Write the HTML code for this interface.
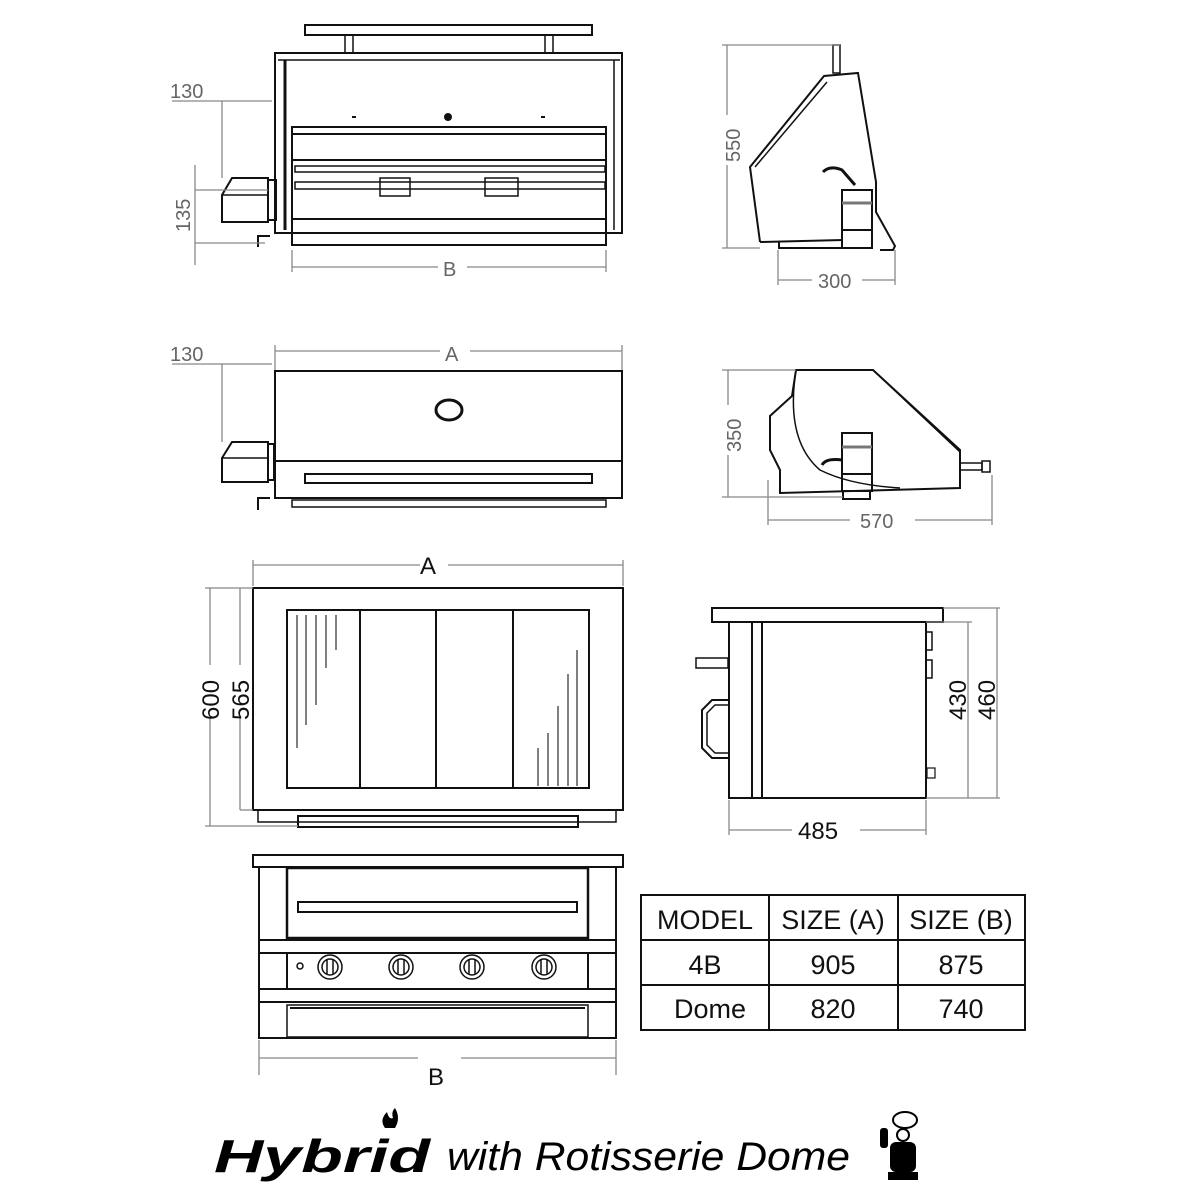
<!DOCTYPE html>
<html><head><meta charset="utf-8"><style>
html,body{margin:0;padding:0;background:#fff;}
svg{display:block;}
text{font-family:"Liberation Sans",sans-serif;}
</style></head><body>
<svg width="1200" height="1200" viewBox="0 0 1200 1200" xmlns="http://www.w3.org/2000/svg">
<rect width="1200" height="1200" fill="#fff"/>
<g fill="none" stroke="#111" stroke-width="2">
<!-- VIEW 1: front rotisserie -->
<rect x="305" y="25" width="287" height="10"/>
<rect x="345" y="35" width="8" height="18" stroke-width="1.5"/>
<rect x="545" y="35" width="8" height="18" stroke-width="1.5"/>
<rect x="275" y="53" width="347" height="180"/>
<line x1="278" y1="60" x2="620" y2="60" stroke-width="1.5"/>
<line x1="285" y1="60" x2="285" y2="230" stroke-width="3"/>
<line x1="614" y1="60" x2="614" y2="230" stroke-width="1.5"/>
<rect x="292" y="127" width="314" height="118"/>
<line x1="292" y1="134" x2="606" y2="134"/>
<line x1="292" y1="160" x2="606" y2="160"/>
<line x1="292" y1="219" x2="606" y2="219"/>
<rect x="295" y="166" width="310" height="6" stroke-width="1.5"/>
<rect x="295" y="182" width="310" height="7" stroke-width="1.5"/>
<rect x="380" y="178" width="30" height="18" stroke-width="1.5"/>
<rect x="485" y="178" width="33" height="18" stroke-width="1.5"/>
<path d="M222 195 L232 178 L268 178 L268 222 L222 222 Z"/>
<line x1="222" y1="195" x2="268" y2="195" stroke-width="1.5"/>
<rect x="268" y="180" width="8" height="40"/>
<circle cx="448" cy="117" r="3" fill="#111"/>
<line x1="352" y1="117" x2="356" y2="117"/>
<line x1="541" y1="117" x2="545" y2="117"/>
<path d="M258 247 V236 H270"/>
</g>
<g stroke="#888" stroke-width="1.3" fill="none">
<line x1="172" y1="101" x2="272" y2="101"/>
<line x1="222" y1="101" x2="222" y2="178"/>
<line x1="195" y1="165" x2="195" y2="265"/>
<line x1="195" y1="190" x2="268" y2="190"/>
<line x1="195" y1="243" x2="265" y2="243"/>
<line x1="292" y1="250" x2="292" y2="272"/>
<line x1="606" y1="250" x2="606" y2="272"/>
<line x1="292" y1="267" x2="438" y2="267"/>
<line x1="467" y1="267" x2="606" y2="267"/>
</g>
<g fill="#666" font-size="20">
<text x="170" y="98">130</text>
<text transform="translate(190 232) rotate(-90)">135</text>
<text x="443" y="276">B</text>
</g>

<!-- VIEW 2: closed front -->
<g fill="none" stroke="#111" stroke-width="2">
<rect x="275" y="371" width="347" height="127"/>
<line x1="275" y1="461" x2="622" y2="461"/>
<rect x="305" y="474" width="287" height="9"/>
<ellipse cx="449" cy="410" rx="13" ry="10" stroke-width="3"/>
<path d="M222 458 L232 442 L268 442 L268 482 L222 482 Z"/>
<line x1="222" y1="458" x2="268" y2="458" stroke-width="1.5"/>
<rect x="268" y="444" width="6" height="36"/>
<rect x="292" y="500" width="314" height="7" stroke-width="1.5"/>
<path d="M258 510 V498 H270"/>
</g>
<g stroke="#888" stroke-width="1.3" fill="none">
<line x1="172" y1="364" x2="272" y2="364"/>
<line x1="222" y1="364" x2="222" y2="442"/>
<line x1="275" y1="345" x2="275" y2="370"/>
<line x1="622" y1="345" x2="622" y2="370"/>
<line x1="275" y1="351" x2="440" y2="351"/>
<line x1="470" y1="351" x2="622" y2="351"/>
</g>
<g fill="#666" font-size="20">
<text x="170" y="361">130</text>
<text x="445" y="361">A</text>
</g>

<!-- SIDE VIEW 1 -->
<g fill="none" stroke="#111" stroke-width="2">
<path d="M760 242 L750 167 L824 76 L858 73 L876 182 L876 212 L895 246 L893 250 L880 250"/>
<path d="M760 242 L843 240"/>
<path d="M755 167 L827 82" stroke-width="1.5"/>
<rect x="833" y="45" width="7" height="28" stroke-width="1.5"/>
<rect x="842" y="190" width="30" height="58"/>
<line x1="842" y1="203" x2="872" y2="203" stroke="#777" stroke-width="3"/>
<line x1="842" y1="230" x2="872" y2="230"/>
<path d="M823 172 Q830 165 842 170 L855 185" stroke-width="3"/>
<path d="M779 242 V248 H842"/>
</g>
<g stroke="#888" stroke-width="1.3" fill="none">
<line x1="722" y1="45" x2="840" y2="45"/>
<line x1="722" y1="248" x2="760" y2="248"/>
<line x1="727" y1="45" x2="727" y2="115"/>
<line x1="727" y1="165" x2="727" y2="248"/>
<line x1="778" y1="250" x2="778" y2="285"/>
<line x1="895" y1="250" x2="895" y2="285"/>
<line x1="778" y1="280" x2="812" y2="280"/>
<line x1="862" y1="280" x2="895" y2="280"/>
</g>
<g fill="#666" font-size="20">
<text transform="translate(740 162) rotate(-90)">550</text>
<text x="818" y="288">300</text>
</g>

<!-- SIDE VIEW 2 -->
<g fill="none" stroke="#111" stroke-width="2">
<path d="M796 370 L873 370 L960 450 L960 488 L780 493 L780 470 L770 450 L770 416 L792 396 Z"/>
<path d="M873 370 L960 452" stroke-width="1.5"/>
<path d="M796 370 Q785 440 820 470 Q850 485 900 488" stroke-width="1.5"/>
<rect x="842" y="433" width="30" height="58"/>
<line x1="842" y1="447" x2="872" y2="447" stroke="#777" stroke-width="3"/>
<line x1="842" y1="474" x2="872" y2="474"/>
<rect x="843" y="491" width="27" height="8"/>
<rect x="960" y="463" width="22" height="7" stroke-width="1.5"/>
<rect x="982" y="461" width="8" height="11" stroke-width="1.5"/>
<path d="M822 465 Q826 458 842 460" stroke-width="3"/>
</g>
<g stroke="#888" stroke-width="1.3" fill="none">
<line x1="722" y1="370" x2="796" y2="370"/>
<line x1="722" y1="497" x2="843" y2="497"/>
<line x1="728" y1="370" x2="728" y2="405"/>
<line x1="728" y1="455" x2="728" y2="497"/>
<line x1="768" y1="480" x2="768" y2="525"/>
<line x1="992" y1="475" x2="992" y2="525"/>
<line x1="768" y1="520" x2="850" y2="520"/>
<line x1="915" y1="520" x2="992" y2="520"/>
</g>
<g fill="#666" font-size="20">
<text transform="translate(741 452) rotate(-90)">350</text>
<text x="860" y="528">570</text>
</g>

<!-- TOP VIEW -->
<g fill="none" stroke="#111" stroke-width="2">
<rect x="253" y="588" width="370" height="222"/>
<rect x="287" y="610" width="302" height="178"/>
<line x1="360" y1="610" x2="360" y2="788"/>
<line x1="436" y1="610" x2="436" y2="788"/>
<line x1="513" y1="610" x2="513" y2="788"/>
<rect x="258" y="810" width="358" height="12" stroke-width="1.5"/>
<rect x="298" y="816" width="280" height="11"/>
</g>
<g stroke="#555" stroke-width="1.5">
<line x1="297" y1="615" x2="297" y2="748"/>
<line x1="306" y1="615" x2="306" y2="725"/>
<line x1="316" y1="615" x2="316" y2="705"/>
<line x1="326" y1="615" x2="326" y2="668"/>
<line x1="336" y1="615" x2="336" y2="650"/>
<line x1="538" y1="748" x2="538" y2="786"/>
<line x1="548" y1="733" x2="548" y2="786"/>
<line x1="558" y1="706" x2="558" y2="786"/>
<line x1="568" y1="674" x2="568" y2="786"/>
<line x1="577" y1="650" x2="577" y2="786"/>
</g>
<g stroke="#888" stroke-width="1.3" fill="none">
<line x1="253" y1="560" x2="253" y2="586"/>
<line x1="623" y1="560" x2="623" y2="586"/>
<line x1="253" y1="565" x2="420" y2="565"/>
<line x1="448" y1="565" x2="623" y2="565"/>
<line x1="205" y1="588" x2="253" y2="588"/>
<line x1="205" y1="826" x2="298" y2="826"/>
<line x1="240" y1="810" x2="253" y2="810"/>
<line x1="210" y1="588" x2="210" y2="665"/>
<line x1="210" y1="718" x2="210" y2="826"/>
<line x1="240" y1="588" x2="240" y2="665"/>
<line x1="240" y1="718" x2="240" y2="810"/>
</g>
<g fill="#111" font-size="24">
<text x="420" y="574">A</text>
<text transform="translate(219 720) rotate(-90)">600</text>
<text transform="translate(249 720) rotate(-90)">565</text>
</g>

<!-- SIDE VIEW 3 -->
<g fill="none" stroke="#111" stroke-width="2">
<rect x="712" y="608" width="231" height="14"/>
<rect x="729" y="622" width="197" height="176"/>
<line x1="752" y1="622" x2="752" y2="798"/>
<line x1="762" y1="622" x2="762" y2="798"/>
<rect x="696" y="658" width="32" height="10" stroke-width="1.5"/>
<path d="M729 700 L712 700 L702 710 L702 748 L712 758 L729 758" />
<path d="M729 705 L715 705 L707 713 L707 745 L715 753 L729 753" stroke-width="1.5"/>
<rect x="926" y="632" width="6" height="18" stroke-width="1.5"/>
<rect x="926" y="660" width="6" height="18" stroke-width="1.5"/>
<rect x="927" y="768" width="8" height="10" stroke-width="1.2"/>
</g>
<g stroke="#888" stroke-width="1.3" fill="none">
<line x1="943" y1="608" x2="1000" y2="608"/>
<line x1="926" y1="622" x2="972" y2="622"/>
<line x1="926" y1="798" x2="1000" y2="798"/>
<line x1="968" y1="622" x2="968" y2="798"/>
<line x1="997" y1="608" x2="997" y2="798"/>
<line x1="729" y1="800" x2="729" y2="835"/>
<line x1="926" y1="800" x2="926" y2="835"/>
<line x1="729" y1="830" x2="792" y2="830"/>
<line x1="860" y1="830" x2="926" y2="830"/>
</g>
<g fill="#111" font-size="24">
<text x="798" y="839">485</text>
<text transform="translate(966 720) rotate(-90)">430</text>
<text transform="translate(995 720) rotate(-90)">460</text>
</g>

<!-- FRONT VIEW -->
<g fill="none" stroke="#111" stroke-width="2">
<rect x="253" y="855" width="370" height="12"/>
<rect x="259" y="867" width="357" height="171"/>
<rect x="287" y="868" width="301" height="70" stroke-width="2.5"/>
<rect x="298" y="902" width="279" height="10"/>
<line x1="259" y1="940" x2="616" y2="940"/>
<line x1="259" y1="953" x2="616" y2="953"/>
<line x1="259" y1="989" x2="616" y2="989"/>
<line x1="259" y1="1002" x2="616" y2="1002"/>
<line x1="287" y1="953" x2="287" y2="989"/>
<line x1="588" y1="953" x2="588" y2="989"/>
<rect x="287" y="1005" width="301" height="32" stroke-width="1.5"/>
<line x1="290" y1="1008" x2="585" y2="1008"/>
</g>
<g fill="none" stroke="#111" stroke-width="1.5">
<circle cx="330" cy="967" r="12"/><circle cx="330" cy="967" r="8"/><line x1="327" y1="960" x2="327" y2="974"/><line x1="333" y1="960" x2="333" y2="974"/>
<circle cx="401" cy="967" r="12"/><circle cx="401" cy="967" r="8"/><line x1="398" y1="960" x2="398" y2="974"/><line x1="404" y1="960" x2="404" y2="974"/>
<circle cx="472" cy="967" r="12"/><circle cx="472" cy="967" r="8"/><line x1="469" y1="960" x2="469" y2="974"/><line x1="475" y1="960" x2="475" y2="974"/>
<circle cx="544" cy="967" r="12"/><circle cx="544" cy="967" r="8"/><line x1="541" y1="960" x2="541" y2="974"/><line x1="547" y1="960" x2="547" y2="974"/>
<circle cx="300" cy="966" r="3"/>
</g>
<g stroke="#888" stroke-width="1.3" fill="none">
<line x1="259" y1="1040" x2="259" y2="1075"/>
<line x1="616" y1="1040" x2="616" y2="1075"/>
<line x1="259" y1="1058" x2="418" y2="1058"/>
<line x1="461" y1="1058" x2="616" y2="1058"/>
</g>
<text x="428" y="1085" font-size="24" fill="#111">B</text>

<!-- TABLE -->
<g fill="none" stroke="#111" stroke-width="2">
<rect x="641" y="895" width="384" height="135"/>
<line x1="641" y1="940" x2="1025" y2="940"/>
<line x1="641" y1="985" x2="1025" y2="985"/>
<line x1="769" y1="895" x2="769" y2="1030"/>
<line x1="898" y1="895" x2="898" y2="1030"/>
</g>
<g fill="#111" font-size="27" text-anchor="middle">
<text x="705" y="929">MODEL</text>
<text x="833" y="929">SIZE (A)</text>
<text x="961" y="929">SIZE (B)</text>
<text x="705" y="974">4B</text>
<text x="833" y="974">905</text>
<text x="961" y="974">875</text>
<text x="710" y="1018">Dome</text>
<text x="833" y="1018">820</text>
<text x="961" y="1018">740</text>
</g>

<!-- TITLE -->
<text x="214" y="1172" font-size="46" font-weight="bold" font-style="italic" fill="#000" font-family="'Liberation Sans',sans-serif" textLength="216" lengthAdjust="spacingAndGlyphs">Hybrid</text>
<path d="M385 1128 q-6 -8 2 -16 q2 8 6 6 q-2 -6 2 -10 q6 10 0 20 z" fill="#000"/>
<text x="447" y="1170" font-size="40" font-style="italic" fill="#000" font-family="'URW Chancery L','Z003','Liberation Serif',cursive" textLength="403" lengthAdjust="spacingAndGlyphs">with Rotisserie Dome</text>
<g fill="#000">
<ellipse cx="905" cy="1120" rx="12" ry="8" fill="none" stroke="#000" stroke-width="2"/>
<circle cx="903" cy="1135" r="6" fill="none" stroke="#000" stroke-width="2"/>
<rect x="890" y="1142" width="26" height="30" rx="6"/>
<rect x="880" y="1128" width="8" height="20" rx="3"/>
<rect x="888" y="1172" width="30" height="8"/>
</g>
</svg>
</body></html>
